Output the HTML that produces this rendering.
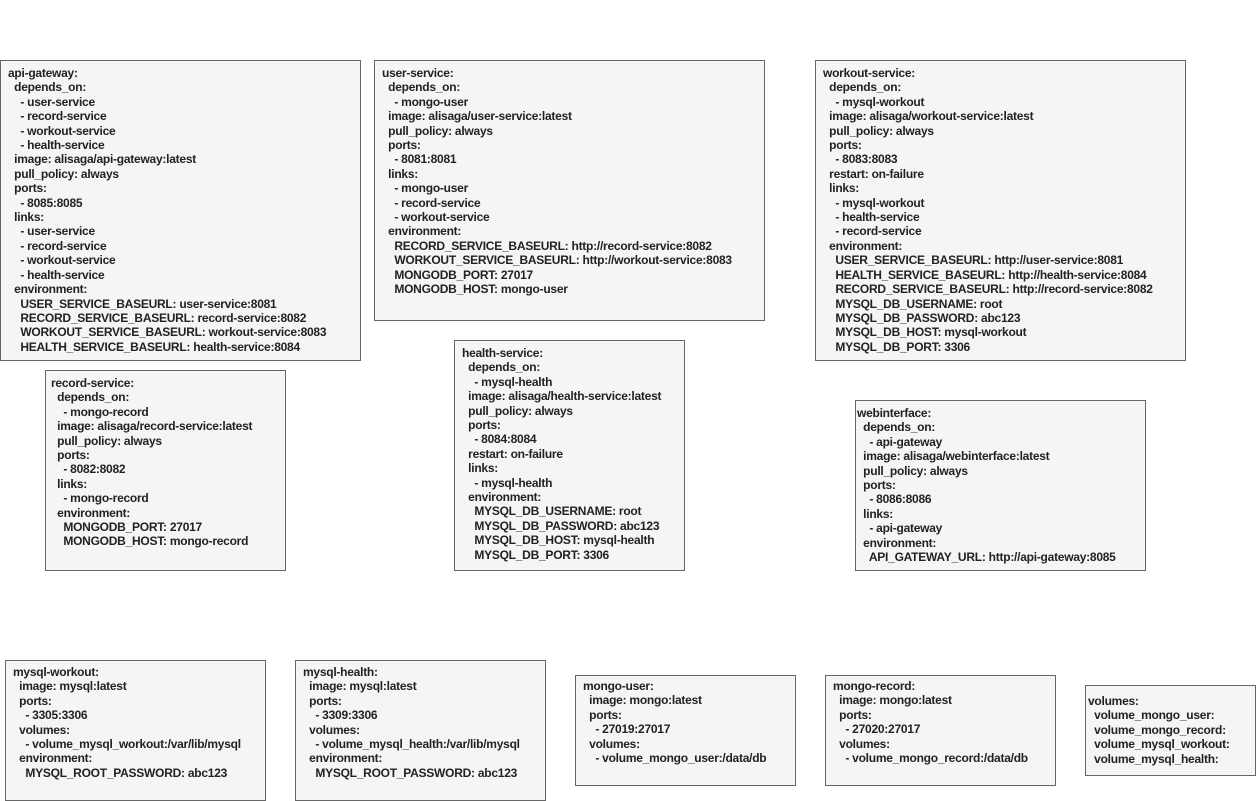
<!DOCTYPE html>
<html><head><style>
body{margin:0;width:1256px;height:801px;background:#fff;position:relative;overflow:hidden}
.b{position:absolute;box-sizing:border-box;border:1px solid #666;background:#f5f5f5;padding-left:7px;padding-top:5px;font:bold 12px/14.4px "Liberation Sans",Arial,sans-serif;letter-spacing:-0.25px;color:#222;white-space:pre}
</style></head><body>
<div class="b" style="left:0;top:60px;width:361px;height:301px">api-gateway:
  depends_on:
    - user-service
    - record-service
    - workout-service
    - health-service
  image: alisaga/api-gateway:latest
  pull_policy: always
  ports:
    - 8085:8085
  links:
    - user-service
    - record-service
    - workout-service
    - health-service
  environment:
    USER_SERVICE_BASEURL: user-service:8081
    RECORD_SERVICE_BASEURL: record-service:8082
    WORKOUT_SERVICE_BASEURL: workout-service:8083
    HEALTH_SERVICE_BASEURL: health-service:8084</div>
<div class="b" style="left:374px;top:60px;width:391px;height:261px">user-service:
  depends_on:
    - mongo-user
  image: alisaga/user-service:latest
  pull_policy: always
  ports:
    - 8081:8081
  links:
    - mongo-user
    - record-service
    - workout-service
  environment:
    RECORD_SERVICE_BASEURL: http://record-service:8082
    WORKOUT_SERVICE_BASEURL: http://workout-service:8083
    MONGODB_PORT: 27017
    MONGODB_HOST: mongo-user</div>
<div class="b" style="left:815px;top:60px;width:371px;height:301px">workout-service:
  depends_on:
    - mysql-workout
  image: alisaga/workout-service:latest
  pull_policy: always
  ports:
    - 8083:8083
  restart: on-failure
  links:
    - mysql-workout
    - health-service
    - record-service
  environment:
    USER_SERVICE_BASEURL: http://user-service:8081
    HEALTH_SERVICE_BASEURL: http://health-service:8084
    RECORD_SERVICE_BASEURL: http://record-service:8082
    MYSQL_DB_USERNAME: root
    MYSQL_DB_PASSWORD: abc123
    MYSQL_DB_HOST: mysql-workout
    MYSQL_DB_PORT: 3306</div>
<div class="b" style="left:45px;top:370px;width:241px;height:201px;padding-left:5px">record-service:
  depends_on:
    - mongo-record
  image: alisaga/record-service:latest
  pull_policy: always
  ports:
    - 8082:8082
  links:
    - mongo-record
  environment:
    MONGODB_PORT: 27017
    MONGODB_HOST: mongo-record</div>
<div class="b" style="left:454px;top:340px;width:231px;height:231px">health-service:
  depends_on:
    - mysql-health
  image: alisaga/health-service:latest
  pull_policy: always
  ports:
    - 8084:8084
  restart: on-failure
  links:
    - mysql-health
  environment:
    MYSQL_DB_USERNAME: root
    MYSQL_DB_PASSWORD: abc123
    MYSQL_DB_HOST: mysql-health
    MYSQL_DB_PORT: 3306</div>
<div class="b" style="left:855px;top:400px;width:291px;height:171px;padding-left:1px">webinterface:
  depends_on:
    - api-gateway
  image: alisaga/webinterface:latest
  pull_policy: always
  ports:
    - 8086:8086
  links:
    - api-gateway
  environment:
    API_GATEWAY_URL: http://api-gateway:8085</div>
<div class="b" style="left:5px;top:660px;width:261px;height:141px;padding-top:4px">mysql-workout:
  image: mysql:latest
  ports:
    - 3305:3306
  volumes:
    - volume_mysql_workout:/var/lib/mysql
  environment:
    MYSQL_ROOT_PASSWORD: abc123</div>
<div class="b" style="left:295px;top:660px;width:251px;height:141px;padding-top:4px">mysql-health:
  image: mysql:latest
  ports:
    - 3309:3306
  volumes:
    - volume_mysql_health:/var/lib/mysql
  environment:
    MYSQL_ROOT_PASSWORD: abc123</div>
<div class="b" style="left:575px;top:675px;width:221px;height:111px;padding-top:3px">mongo-user:
  image: mongo:latest
  ports:
    - 27019:27017
  volumes:
    - volume_mongo_user:/data/db</div>
<div class="b" style="left:825px;top:675px;width:231px;height:111px;padding-top:3px">mongo-record:
  image: mongo:latest
  ports:
    - 27020:27017
  volumes:
    - volume_mongo_record:/data/db</div>
<div class="b" style="left:1085px;top:685px;width:171px;height:91px;padding-left:2px;padding-top:8px">volumes:
  volume_mongo_user:
  volume_mongo_record:
  volume_mysql_workout:
  volume_mysql_health:</div>
</body></html>
